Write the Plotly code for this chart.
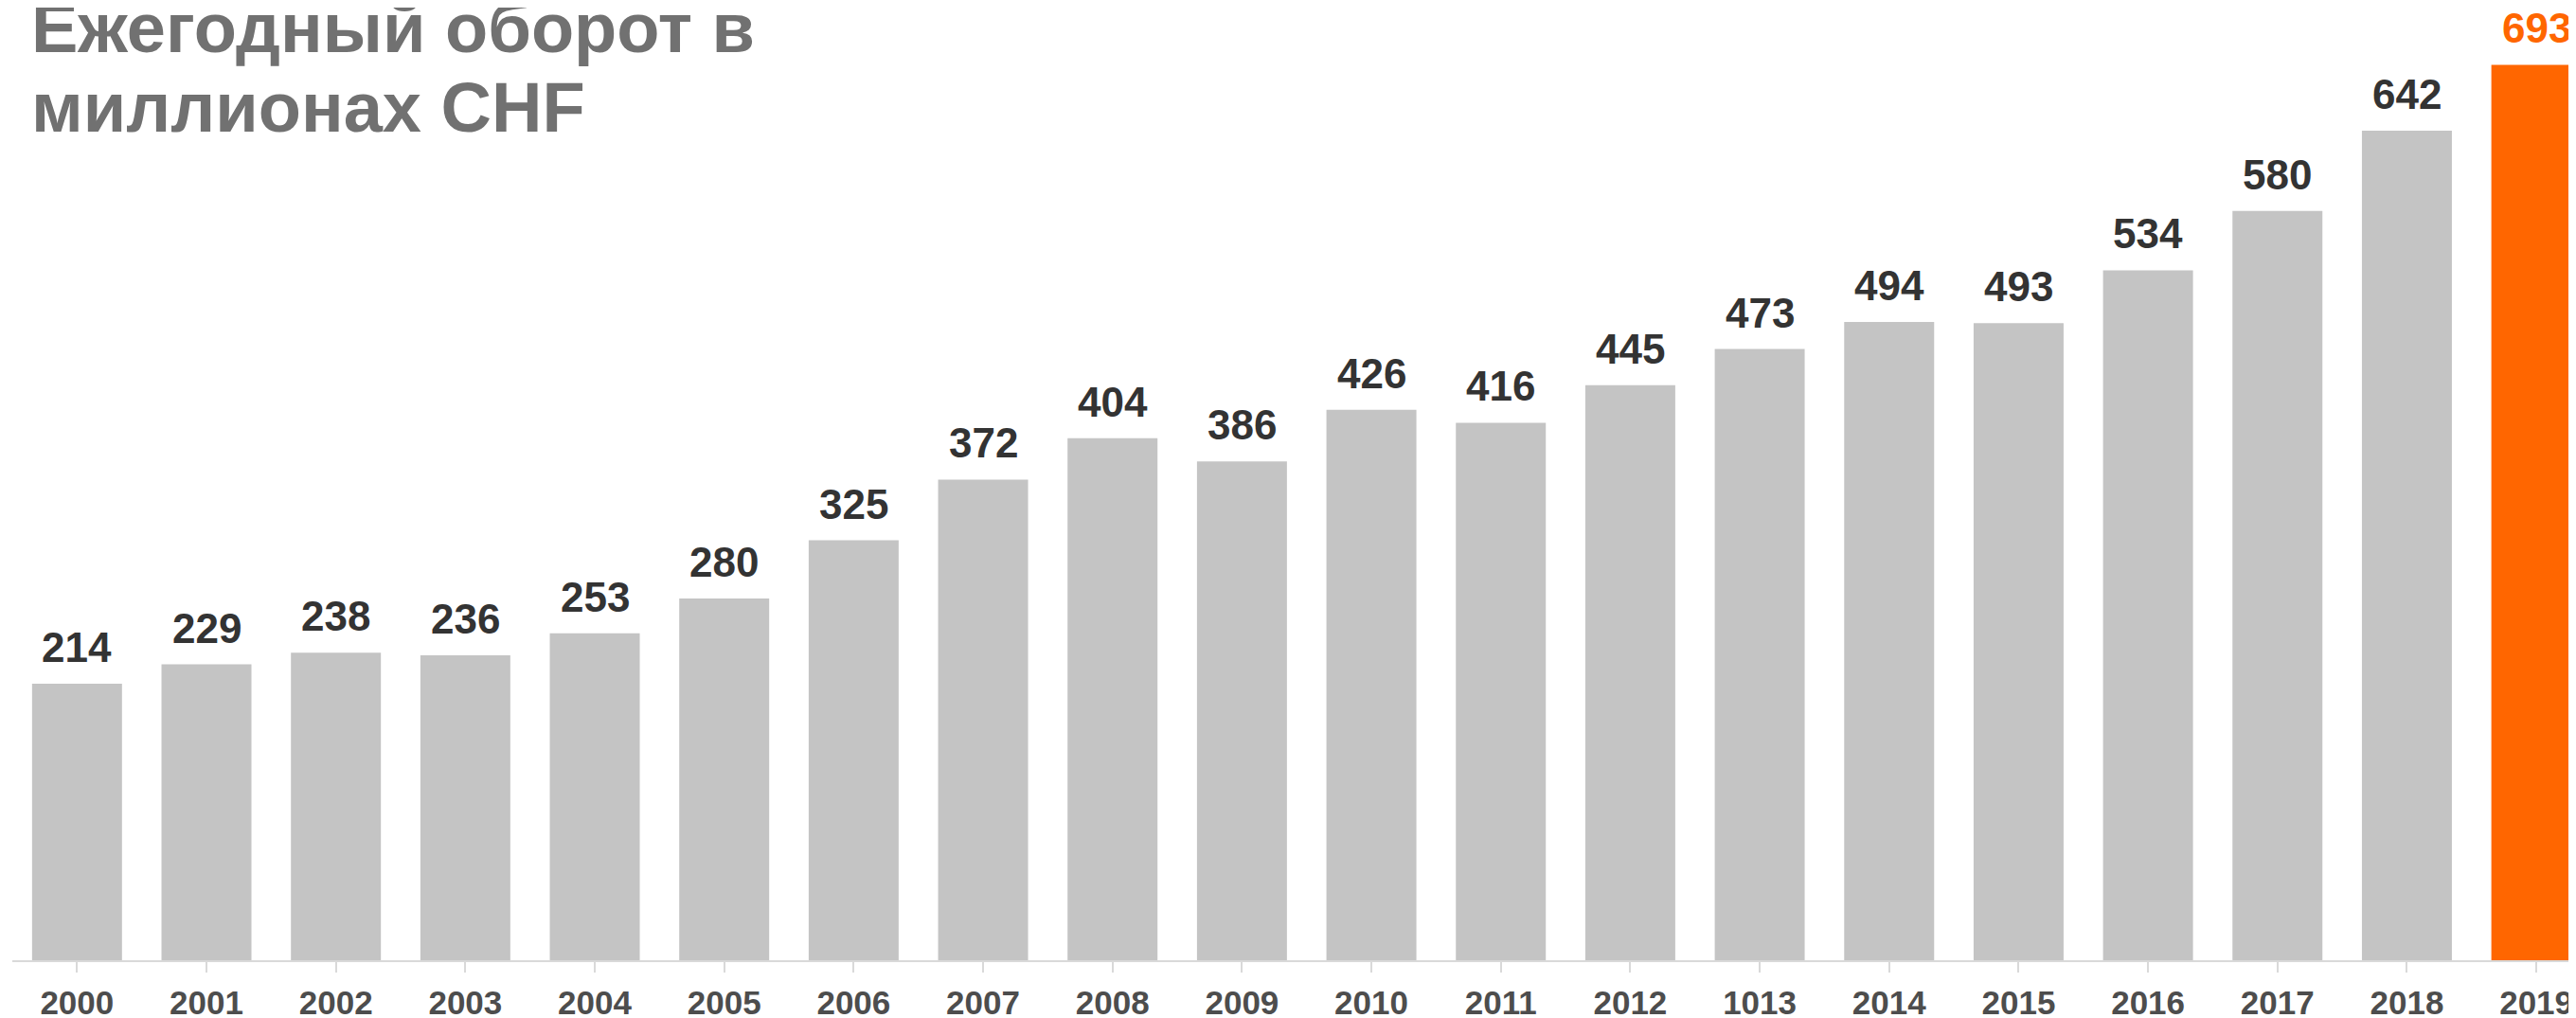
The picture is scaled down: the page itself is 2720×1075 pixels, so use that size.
import plotly.graph_objects as go

years = ["2000", "2001", "2002", "2003", "2004", "2005", "2006", "2007", "2008", "2009",
         "2010", "2011", "2012", "1013", "2014", "2015", "2016", "2017", "2018", "2019"]
turnover = [214, 229, 238, 236, 253, 280, 325, 372, 404, 386,
            426, 416, 445, 473, 494, 493, 534, 580, 642, 693]
title_lines = ["Ежегодный оборот в", "миллионах CHF"]

GRAY = "#c4c4c4"
ORANGE = "#ff6600"
FONT = "Liberation Sans, Arial, sans-serif"
bar_colors = [GRAY] * (len(years) - 1) + [ORANGE]
label_colors = ["#333333"] * (len(years) - 1) + [ORANGE]
idx = list(range(len(years)))

fig = go.Figure()
fig.add_trace(go.Bar(
    x=idx, y=turnover,
    marker=dict(color=bar_colors, line=dict(width=0)),
    width=0.695,
    customdata=years,
    hovertemplate="%{customdata}: %{y}<extra></extra>",
))

annotations = []
for i, v, c in zip(idx, turnover, label_colors):
    annotations.append(dict(
        x=i, y=v, xref="x", yref="y", text="<b>" + str(v) + "</b>", showarrow=False,
        yanchor="bottom", yshift=12,
        font=dict(family=FONT, size=44, color=c),
    ))

annotations.append(dict(
    x=0, y=1, xref="paper", yref="paper", xanchor="left", yanchor="top",
    xshift=18, yshift=22, text="<b>" + title_lines[0] + "</b>", showarrow=False,
    font=dict(family=FONT, size=74, color="#717171"),
))
annotations.append(dict(
    x=0, y=1, xref="paper", yref="paper", xanchor="left", yanchor="top",
    xshift=18, yshift=-62, text="<b>" + title_lines[1] + "</b>", showarrow=False,
    font=dict(family=FONT, size=74, color="#717171"),
))

fig.update_layout(
    width=2720, height=1075,
    margin=dict(l=5, r=0, t=0, b=69),
    paper_bgcolor="white", plot_bgcolor="white",
    showlegend=False,
    annotations=annotations,
    xaxis=dict(
        range=[-0.5, 19.365],
        showline=True, linecolor="#d9d9d9", linewidth=2,
        ticks="outside", tickson="boundaries", ticklen=11, tickcolor="#d9d9d9", tickwidth=2,
        tickfont=dict(family=FONT, size=35, color="#4d4d4d"),
        tickmode="array",
        tickvals=idx,
        ticktext=["<b>" + y + "</b>" for y in years],
        ticklabelstandoff=2,
        showgrid=False, zeroline=False,
    ),
    yaxis=dict(
        range=[0, 737.3], visible=False, showgrid=False, zeroline=False,
    ),
)

fig.write_html("out.html")
